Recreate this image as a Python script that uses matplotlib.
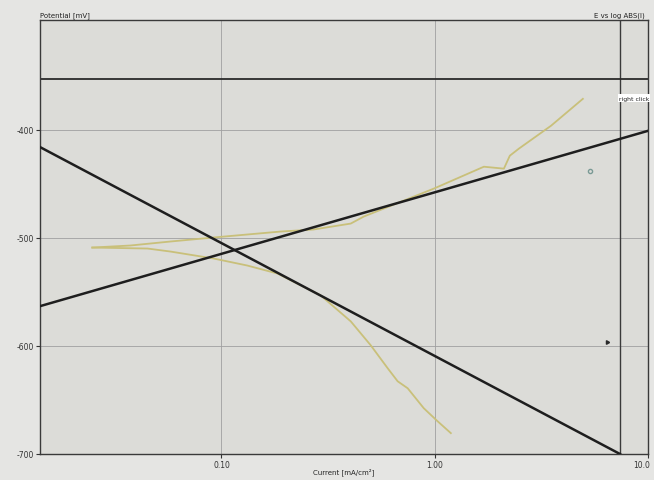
import matplotlib
matplotlib.use("Agg")
import matplotlib.pyplot as plt
from matplotlib.transforms import ScaledTranslation

# ---- data ----
# measured polarisation curve, cathodic branch (from the tip down)
cath_i = [0.0248, 0.0450, 0.0577, 0.0917, 0.132, 0.183, 0.292, 0.404, 0.501,
          0.602, 0.670, 0.747, 0.888, 1.03, 1.19]
cath_E = [-509.0, -509.9, -512.7, -519.1, -525.6, -533.0, -553.3, -577.3, -599.4,
          -620.7, -632.7, -639.2, -657.6, -669.6, -680.7]
# anodic branch (from the tip up)
anod_i = [0.0248, 0.0374, 0.0577, 0.0917, 0.189, 0.270, 0.404, 0.465, 0.989,
          1.70, 2.11, 2.25, 2.48, 3.51, 4.95]
anod_E = [-509.0, -507.1, -503.4, -499.7, -494.2, -492.3, -486.8, -480.3, -454.5,
          -434.2, -436.0, -424.0, -417.5, -396.3, -371.4]
# Tafel fit lines (end points)
tafel_c_i = [0.0140, 7.39]
tafel_c_E = [-415.7, -700.0]
tafel_a_i = [0.0140, 10.0]
tafel_a_E = [-563.4, -401.0]
# cursor lines / markers
cursor_x = 7.39
cursor_y = -353.0
marker_i = [5.35]
marker_E = [-437.9]
pointer_i = [6.4]
pointer_E = [-596.0]

xticks = [0.1, 1.0, 10.0]
xticklabels = ["0.10", "1.00", "10.0"]
yticks = [-400, -500, -600, -700]
yticklabels = ["-400", "-500", "-600", "-700"]

# ---- figure ----
W, H = 654, 481
fig = plt.figure(figsize=(W / 100, H / 100), dpi=100)
fig.patch.set_facecolor("#e5e5e3")
ax = fig.add_axes([40 / W, 1 - 455 / H, 608 / W, (455 - 20.5) / H])
ax.set_facecolor("#dcdcd8")
ax.set_xscale("log")
ax.set_xlim(0.0141, 10.0)
ax.set_ylim(-700, -298)

ax.set_xticks(xticks)
ax.set_xticklabels(xticklabels)
ax.set_xticks([], minor=True)
ax.set_yticks(yticks)
ax.set_yticklabels(yticklabels)
ax.tick_params(axis="both", labelsize=5.5, length=3, width=0.8, color="#333333",
               labelcolor="#333333", pad=1)
ax.grid(True, which="major", color="#a0a0a0", linewidth=0.6)
for s in ax.spines.values():
    s.set_color("#3a3a3a")
    s.set_linewidth(1.0)

# keep the last x label inside the figure
last = ax.get_xticklabels()[-1]
last.set_transform(last.get_transform() + ScaledTranslation(-6 / 100, 0, fig.dpi_scale_trans))

# measured curve
ax.plot(cath_i, cath_E, color="#c9c07a", linewidth=1.3, zorder=3)
ax.plot(anod_i, anod_E, color="#c9c07a", linewidth=1.3, zorder=3)
# Tafel lines
ax.plot(tafel_c_i, tafel_c_E, color="#1e1e1e", linewidth=1.8, zorder=4)
ax.plot(tafel_a_i, tafel_a_E, color="#1e1e1e", linewidth=1.8, zorder=4)
# cursor lines
ax.axvline(cursor_x, color="#3a3a3a", linewidth=1.0, zorder=2)
ax.axhline(cursor_y, color="#2a2a2a", linewidth=1.3, zorder=2)
ax.plot(marker_i, marker_E, marker="o", markersize=3, markerfacecolor="none",
        markeredgecolor="#7a9a95", linestyle="none", zorder=5)
ax.plot(pointer_i, pointer_E, marker=(3, 0, 30), markersize=3, color="#2a2a2a",
        linestyle="none", zorder=5)

# texts
fig.text(40 / W, 1 - 19 / H, "Potential [mV]", fontsize=5, color="#222222",
         ha="left", va="bottom")
fig.text(645 / W, 1 - 19 / H, "E vs log ABS(I)", fontsize=5, color="#222222",
         ha="right", va="bottom")
fig.text(344 / W, 1 - 472 / H, "Current [mA/cm²]", fontsize=5, color="#222222",
         ha="center", va="center")
fig.text(619 / W, 1 - 99 / H, "right click", fontsize=4.4, color="#222222",
         ha="left", va="center",
         bbox=dict(boxstyle="square,pad=0.2", facecolor="white", edgecolor="none"))

fig.savefig("out.png", dpi=100, facecolor=fig.get_facecolor())
